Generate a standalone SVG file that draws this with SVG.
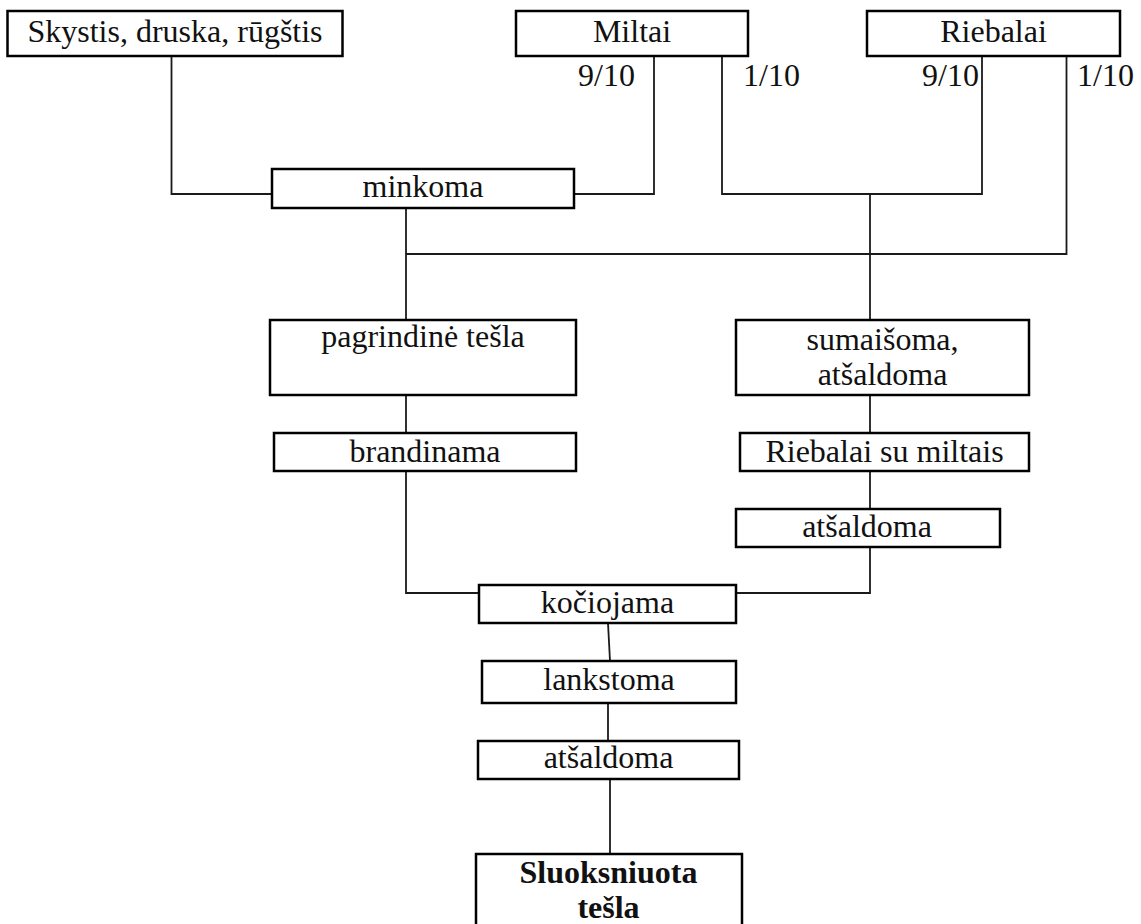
<svg xmlns="http://www.w3.org/2000/svg" width="1141" height="924" viewBox="0 0 1141 924">
  <style>
    .box { fill: #ffffff; stroke: #000000; stroke-width: 2.5; }
    .lbl { font-family: "Liberation Serif", "Times New Roman", serif; font-size: 32px; fill: #111111; text-anchor: middle; }
    .bold { font-weight: bold; }
    .frac { font-family: "Liberation Serif", "Times New Roman", serif; font-size: 32px; fill: #111111; }
    .wire { fill: none; stroke: #1a1a1a; stroke-width: 1.8; }
  </style>
  <rect width="1141" height="924" fill="#ffffff"/>

  <!-- connectors -->
  <g id="connectors">
    <path class="wire" d="M171.5 56 V194 H272"/>
    <path class="wire" d="M654 56 V194 H574"/>
    <path class="wire" d="M722 56 V194 H982 V56"/>
    <path class="wire" d="M870 194 V320"/>
    <path class="wire" d="M1066.5 56 V254 H406"/>
    <path class="wire" d="M406 208 V320"/>
    <path class="wire" d="M406 395 V433"/>
    <path class="wire" d="M406 471 V593 H479"/>
    <path class="wire" d="M870 395 V433"/>
    <path class="wire" d="M870 471 V509"/>
    <path class="wire" d="M870 547 V593 H736"/>
    <path class="wire" d="M608 623 L610 661"/>
    <path class="wire" d="M608 703 V741"/>
    <path class="wire" d="M610 779 V854"/>
  </g>

  <!-- split ratios -->
  <g id="ratios">
    <text class="frac" x="635" y="86" text-anchor="end">9/10</text>
    <text class="frac" x="743" y="86">1/10</text>
    <text class="frac" x="979" y="86" text-anchor="end">9/10</text>
    <text class="frac" x="1077" y="86">1/10</text>
  </g>

  <g id="skystis">
    <rect class="box" x="7.5" y="11" width="335" height="45"/>
    <text class="lbl" x="175" y="42">Skystis, druska, rūgštis</text>
  </g>
  <g id="miltai">
    <rect class="box" x="516" y="11" width="232" height="45"/>
    <text class="lbl" x="632" y="42">Miltai</text>
  </g>
  <g id="riebalai">
    <rect class="box" x="867" y="11" width="253" height="45"/>
    <text class="lbl" x="993.5" y="42">Riebalai</text>
  </g>
  <g id="minkoma">
    <rect class="box" x="272" y="169" width="302" height="39"/>
    <text class="lbl" x="423" y="197">minkoma</text>
  </g>
  <g id="pagrindine-tesla">
    <rect class="box" x="270" y="320" width="306" height="75"/>
    <text class="lbl" x="423" y="347">pagrindinė tešla</text>
  </g>
  <g id="sumaisoma">
    <rect class="box" x="736" y="320" width="293" height="75"/>
    <text class="lbl" x="882.5" y="350">sumaišoma,</text>
    <text class="lbl" x="882.5" y="385">atšaldoma</text>
  </g>
  <g id="brandinama">
    <rect class="box" x="274" y="433" width="302" height="38"/>
    <text class="lbl" x="425" y="462">brandinama</text>
  </g>
  <g id="riebalai-su-miltais">
    <rect class="box" x="740" y="433" width="289" height="38"/>
    <text class="lbl" x="884.5" y="462">Riebalai su miltais</text>
  </g>
  <g id="atsaldoma-1">
    <rect class="box" x="736" y="509" width="264" height="38"/>
    <text class="lbl" x="867" y="537">atšaldoma</text>
  </g>
  <g id="kociojama">
    <rect class="box" x="479" y="585" width="257" height="38"/>
    <text class="lbl" x="607.5" y="613">kočiojama</text>
  </g>
  <g id="lankstoma">
    <rect class="box" x="482" y="661" width="254" height="42"/>
    <text class="lbl" x="609" y="690">lankstoma</text>
  </g>
  <g id="atsaldoma-2">
    <rect class="box" x="478" y="741" width="261" height="38"/>
    <text class="lbl" x="608.5" y="768">atšaldoma</text>
  </g>
  <g id="sluoksniuota-tesla">
    <rect class="box" x="476" y="854" width="266" height="90"/>
    <text class="lbl bold" x="608.5" y="883">Sluoksniuota</text>
    <text class="lbl bold" x="608.5" y="918">tešla</text>
  </g>
</svg>
